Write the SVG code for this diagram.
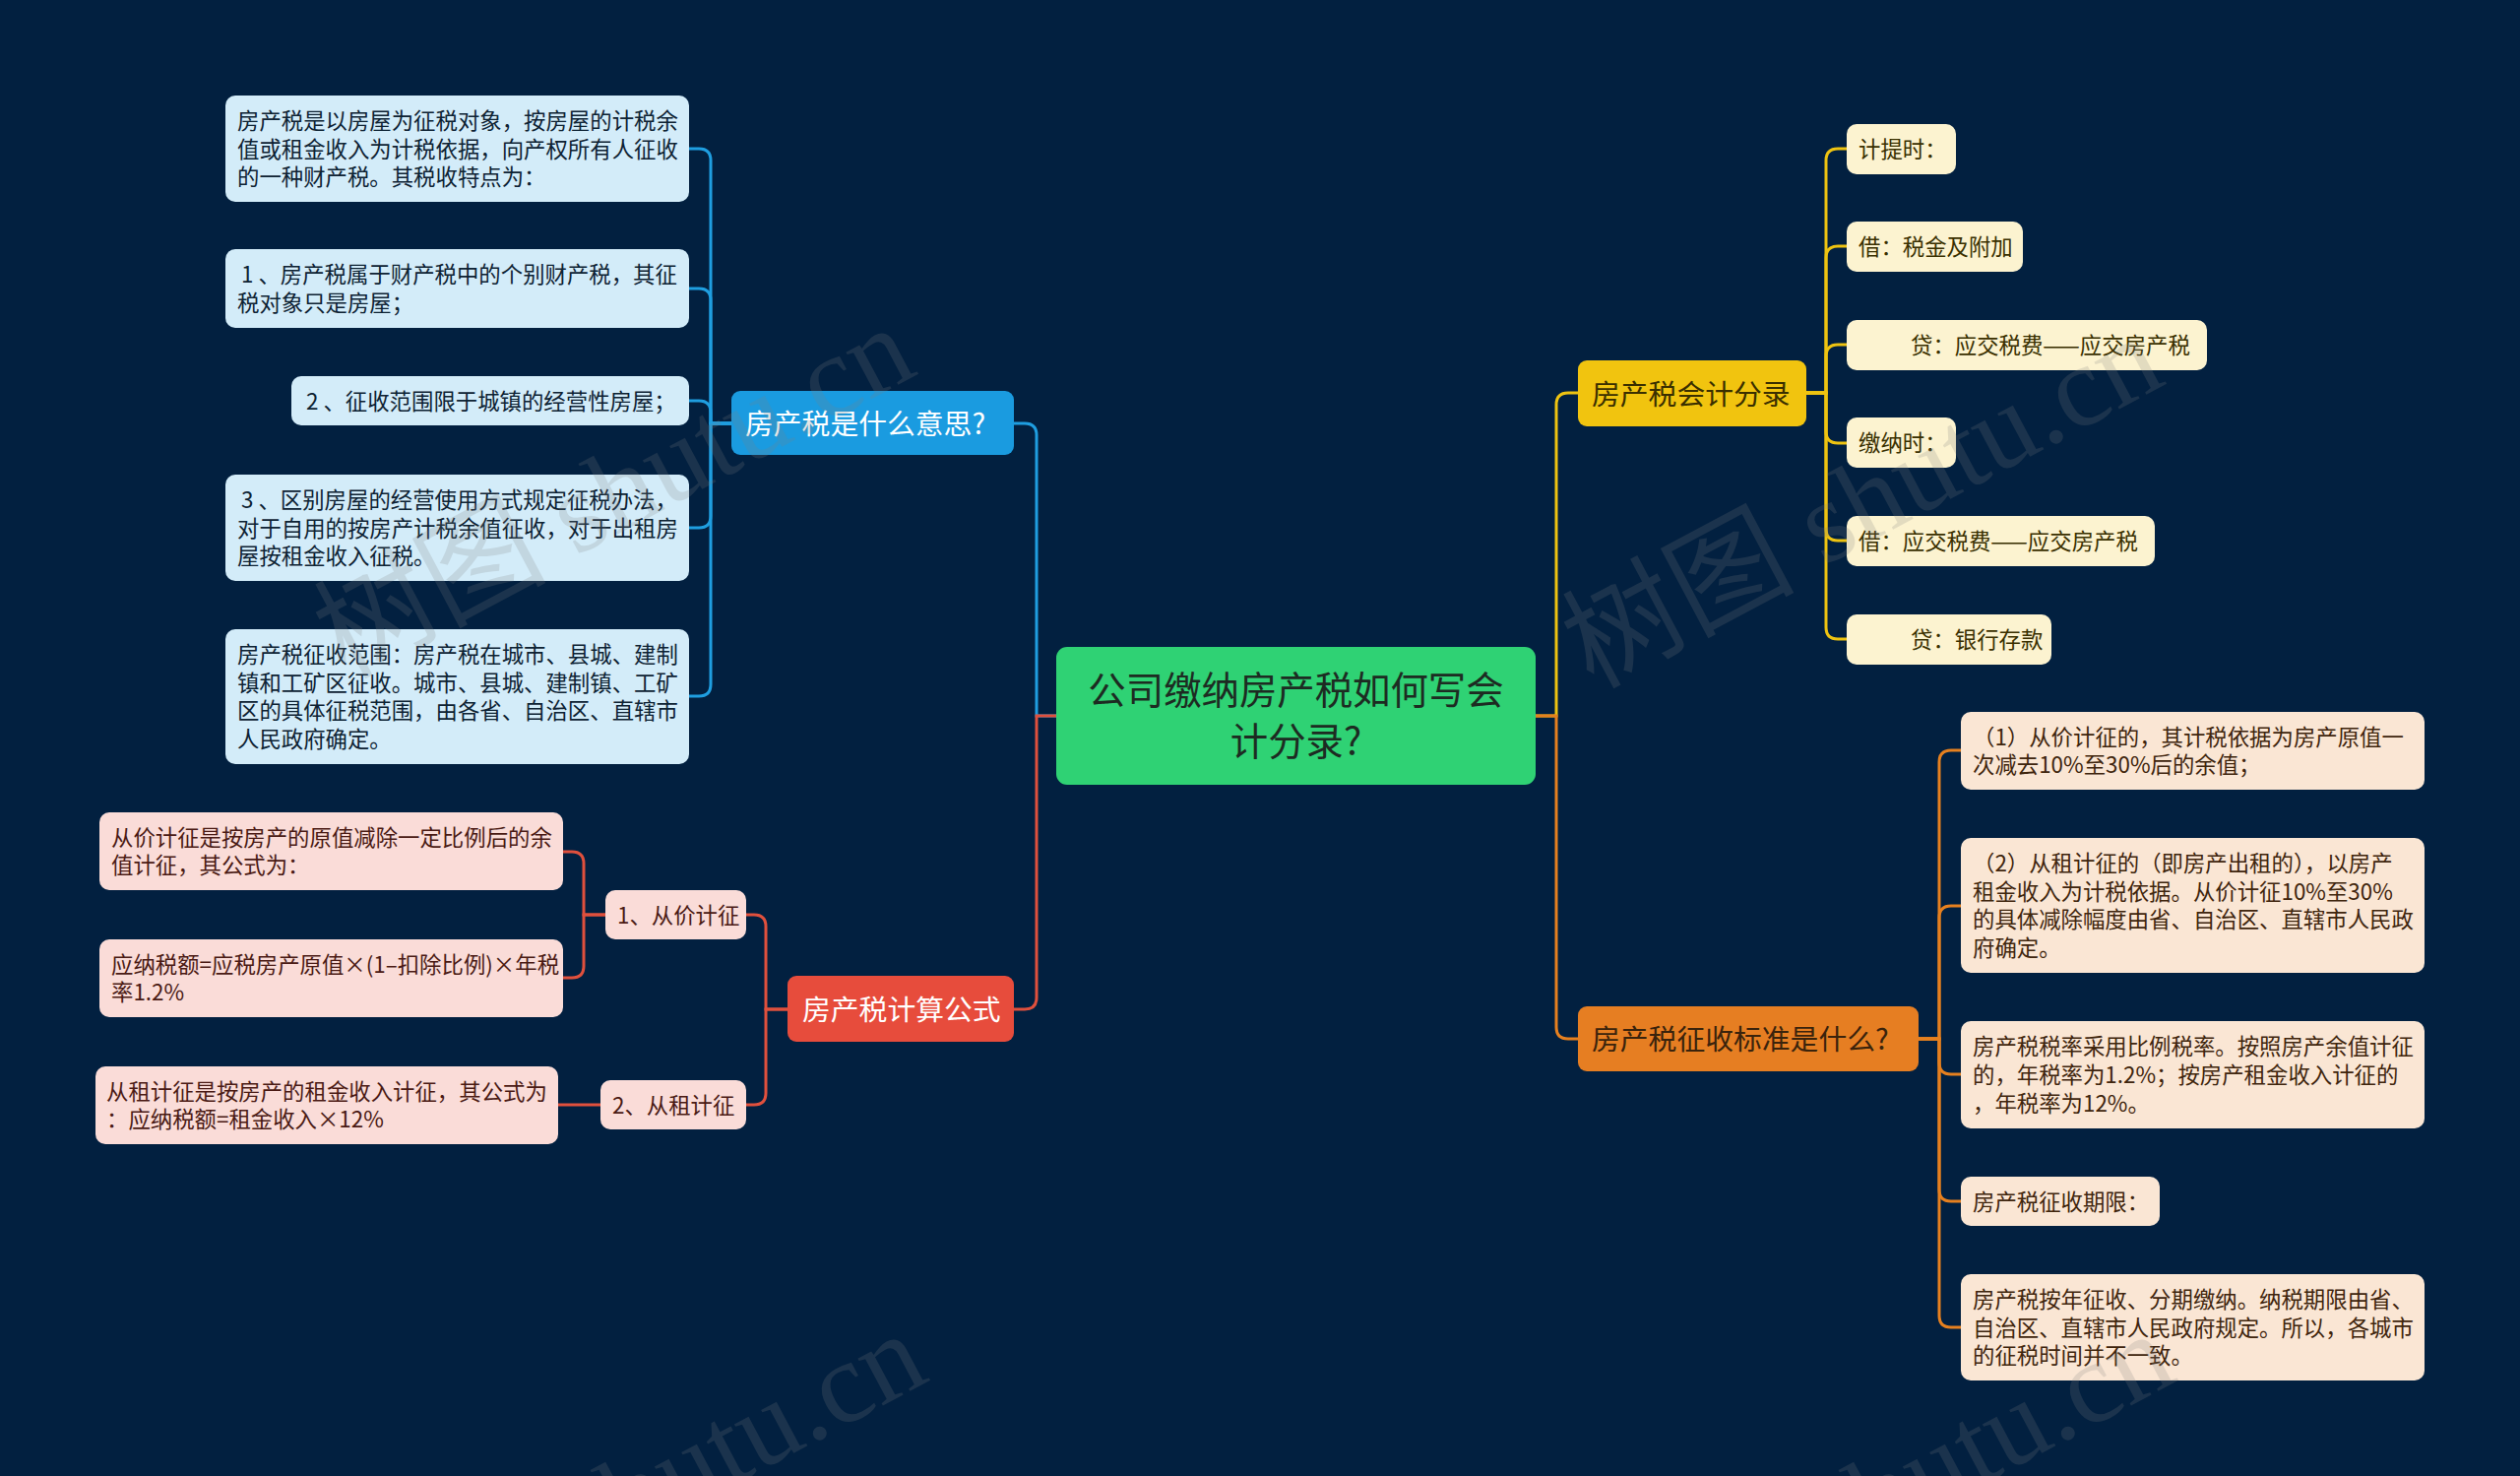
<svg xmlns="http://www.w3.org/2000/svg" width="2560" height="1499" viewBox="0 0 2560 1499">
<style>
text{font-family:"Noto Sans CJK SC","Noto Sans",sans-serif;}
.t{font-size:22.4px;}
.m{font-size:28.8px;}
.c{font-size:38.4px;fill:#1d2b22;}
.ln{fill:none;stroke-width:3;stroke-linecap:round;}
.bl{stroke:#1f9ee0;}
.rd{stroke:#e0503d;}
.yl{stroke:#eec311;}
.or{stroke:#e6801f;}
.cb{fill:#d3ecf9;}
.cp{fill:#fadcd8;}
.cy{fill:#fcf3d0;}
.co{fill:#fae6d4;}
.tb{fill:#0d2233;}
.tp{fill:#4a1a14;}
.ty{fill:#3a3000;}
.to{fill:#3f250d;}
.wm{font-family:"Liberation Serif","Noto Sans CJK SC",serif;font-size:118px;fill:#808080;opacity:0.2;}
</style>
<rect width="2560" height="1499" fill="#022040"/>

<g id="connectors">
<path class="ln bl" d="M1073,727 H1053 V442 Q1053,430 1041,430 H1030"/>
<path class="ln rd" d="M1073,727 H1053 V1013 Q1053,1025 1041,1025 H1030"/>
<path class="ln yl" d="M1560,727 H1581 V411 Q1581,399 1593,399 H1603"/>
<path class="ln or" d="M1560,727 H1581 V1043 Q1581,1055 1593,1055 H1603"/>

<path class="ln bl" d="M743,430 H722 V163 Q722,151 710,151 H700"/>
<path class="ln bl" d="M743,430 H722 V305 Q722,293 710,293 H700"/>
<path class="ln bl" d="M743,430 H722 V419 Q722,407 710,407 H700"/>
<path class="ln bl" d="M743,430 H722 V524 Q722,536 710,536 H700"/>
<path class="ln bl" d="M743,430 H722 V695 Q722,707 710,707 H700"/>

<path class="ln rd" d="M800,1025 H778 V941 Q778,929 766,929 H758"/>
<path class="ln rd" d="M800,1025 H778 V1110 Q778,1122 766,1122 H758"/>
<path class="ln rd" d="M615,929 H593 V877 Q593,865 581,865 H572"/>
<path class="ln rd" d="M615,929 H593 V981 Q593,993 581,993 H572"/>
<path class="ln rd" d="M610,1122 H567"/>

<path class="ln yl" d="M1835,399 H1855 V163 Q1855,151 1867,151 H1876"/>
<path class="ln yl" d="M1835,399 H1855 V262 Q1855,250 1867,250 H1876"/>
<path class="ln yl" d="M1835,399 H1855 V362 Q1855,350 1867,350 H1876"/>
<path class="ln yl" d="M1835,399 H1855 V438 Q1855,450 1867,450 H1876"/>
<path class="ln yl" d="M1835,399 H1855 V537 Q1855,549 1867,549 H1876"/>
<path class="ln yl" d="M1835,399 H1855 V637 Q1855,649 1867,649 H1876"/>

<path class="ln or" d="M1949,1055 H1970 V774 Q1970,762 1982,762 H1992"/>
<path class="ln or" d="M1949,1055 H1970 V932 Q1970,920 1982,920 H1992"/>
<path class="ln or" d="M1949,1055 H1970 V1079 Q1970,1091 1982,1091 H1992"/>
<path class="ln or" d="M1949,1055 H1970 V1208 Q1970,1220 1982,1220 H1992"/>
<path class="ln or" d="M1949,1055 H1970 V1336 Q1970,1348 1982,1348 H1992"/>
</g>

<g id="root">
<rect x="1073" y="657" width="487" height="140" rx="11" fill="#2fd274"/>
<text class="c" x="1316.5" y="715" text-anchor="middle">公司缴纳房产税如何写会</text>
<text class="c" x="1316.5" y="767" text-anchor="middle">计分录?</text>
</g>

<g id="b-main">
<rect x="743" y="397" width="287" height="65" rx="9" fill="#1a9be0"/>
<text class="m" x="757" y="440.5" fill="#ffffff">房产税是什么意思?</text>
</g>
<g id="b1">
<rect class="cb" x="229" y="97" width="471" height="108" rx="10"/>
<text class="t tb" x="241" y="130.7">房产税是以房屋为征税对象，按房屋的计税余</text>
<text class="t tb" x="241" y="159.5">值或租金收入为计税依据，向产权所有人征收</text>
<text class="t tb" x="241" y="188.3">的一种财产税。其税收特点为：</text>
</g>
<g id="b2">
<rect class="cb" x="229" y="253" width="471" height="80" rx="10"/>
<text class="t tb" x="245" y="287.1">1 、房产税属于财产税中的个别财产税，其征</text>
<text class="t tb" x="241" y="315.9">税对象只是房屋；</text>
</g>
<g id="b3">
<rect class="cb" x="296" y="382" width="404" height="50" rx="10"/>
<text class="t tb" x="311" y="415.5">2 、征收范围限于城镇的经营性房屋；</text>
</g>
<g id="b4">
<rect class="cb" x="229" y="482" width="471" height="108" rx="10"/>
<text class="t tb" x="245" y="515.7">3 、区别房屋的经营使用方式规定征税办法，</text>
<text class="t tb" x="241" y="544.5">对于自用的按房产计税余值征收，对于出租房</text>
<text class="t tb" x="241" y="573.3">屋按租金收入征税。</text>
</g>
<g id="b5">
<rect class="cb" x="229" y="639" width="471" height="137" rx="10"/>
<text class="t tb" x="241" y="672.8">房产税征收范围：房产税在城市、县城、建制</text>
<text class="t tb" x="241" y="701.6">镇和工矿区征收。城市、县城、建制镇、工矿</text>
<text class="t tb" x="241" y="730.4">区的具体征税范围，由各省、自治区、直辖市</text>
<text class="t tb" x="241" y="759.2">人民政府确定。</text>
</g>

<g id="r-main">
<rect x="800" y="991" width="230" height="67" rx="9" fill="#e74c3c"/>
<text class="m" x="815" y="1035.5" fill="#ffffff">房产税计算公式</text>
</g>
<g id="r1">
<rect class="cp" x="615" y="904" width="143" height="50" rx="10"/>
<text class="t tp" x="627" y="937.5">1、从价计征</text>
</g>
<g id="r2">
<rect class="cp" x="610" y="1097" width="148" height="50" rx="10"/>
<text class="t tp" x="622" y="1130.5">2、从租计征</text>
</g>
<g id="r1a">
<rect class="cp" x="101" y="825" width="471" height="79" rx="10"/>
<text class="t tp" x="113" y="858.6">从价计征是按房产的原值减除一定比例后的余</text>
<text class="t tp" x="113" y="887.4">值计征，其公式为：</text>
</g>
<g id="r1b">
<rect class="cp" x="101" y="954" width="471" height="79" rx="10"/>
<text class="t tp" x="113" y="987.6">应纳税额=应税房产原值×(1–扣除比例)×年税</text>
<text class="t tp" x="113" y="1016.4">率1.2%</text>
</g>
<g id="r2a">
<rect class="cp" x="97" y="1083" width="470" height="79" rx="10"/>
<text class="t tp" x="108" y="1116.6">从租计征是按房产的租金收入计征，其公式为</text>
<text class="t tp" x="108" y="1145.4">：应纳税额=租金收入×12%</text>
</g>

<g id="y-main">
<rect x="1603" y="366" width="232" height="67" rx="9" fill="#f1c40f"/>
<text class="m" x="1617" y="410.5" fill="#3a2f00">房产税会计分录</text>
</g>
<g id="y1">
<rect class="cy" x="1876" y="126" width="111" height="51" rx="10"/>
<text class="t ty" x="1888" y="160">计提时：</text>
</g>
<g id="y2">
<rect class="cy" x="1876" y="225" width="179" height="51" rx="10"/>
<text class="t ty" x="1888" y="259">借：税金及附加</text>
</g>
<g id="y3">
<rect class="cy" x="1876" y="325" width="366" height="51" rx="10"/>
<text class="t ty" x="1941" y="359">贷：应交税费——应交房产税</text>
</g>
<g id="y4">
<rect class="cy" x="1876" y="424" width="111" height="51" rx="10"/>
<text class="t ty" x="1888" y="458">缴纳时：</text>
</g>
<g id="y5">
<rect class="cy" x="1876" y="524" width="313" height="51" rx="10"/>
<text class="t ty" x="1888" y="558">借：应交税费——应交房产税</text>
</g>
<g id="y6">
<rect class="cy" x="1876" y="624" width="208" height="51" rx="10"/>
<text class="t ty" x="1941" y="658">贷：银行存款</text>
</g>

<g id="o-main">
<rect x="1603" y="1022" width="346" height="66" rx="9" fill="#e67e22"/>
<text class="m" x="1617" y="1066" fill="#3a230c">房产税征收标准是什么?</text>
</g>
<g id="o1">
<rect class="co" x="1992" y="723" width="471" height="79" rx="10"/>
<text class="t to" x="2004" y="756.6">（1）从价计征的，其计税依据为房产原值一</text>
<text class="t to" x="2004" y="785.4">次减去10%至30%后的余值；</text>
</g>
<g id="o2">
<rect class="co" x="1992" y="851" width="471" height="137" rx="10"/>
<text class="t to" x="2004" y="884.8">（2）从租计征的（即房产出租的），以房产</text>
<text class="t to" x="2004" y="913.6">租金收入为计税依据。从价计征10%至30%</text>
<text class="t to" x="2004" y="942.4">的具体减除幅度由省、自治区、直辖市人民政</text>
<text class="t to" x="2004" y="971.2">府确定。</text>
</g>
<g id="o3">
<rect class="co" x="1992" y="1037" width="471" height="109" rx="10"/>
<text class="t to" x="2004" y="1071.2">房产税税率采用比例税率。按照房产余值计征</text>
<text class="t to" x="2004" y="1100">的，年税率为1.2%；按房产租金收入计征的</text>
<text class="t to" x="2004" y="1128.8">，年税率为12%。</text>
</g>
<g id="o4">
<rect class="co" x="1992" y="1195" width="202" height="50" rx="10"/>
<text class="t to" x="2004" y="1228.5">房产税征收期限：</text>
</g>
<g id="o5">
<rect class="co" x="1992" y="1294" width="471" height="108" rx="10"/>
<text class="t to" x="2004" y="1327.7">房产税按年征收、分期缴纳。纳税期限由省、</text>
<text class="t to" x="2004" y="1356.5">自治区、直辖市人民政府规定。所以，各城市</text>
<text class="t to" x="2004" y="1385.3">的征税时间并不一致。</text>
</g>

<g id="watermarks">
<text class="wm" transform="translate(350,690) rotate(-28)">树图 shutu.cn</text>
<text class="wm" transform="translate(1618,700) rotate(-28)">树图 shutu.cn</text>
<text class="wm" transform="translate(362,1712) rotate(-28)">树图 shutu.cn</text>
<text class="wm" transform="translate(1630,1712) rotate(-28)">树图 shutu.cn</text>
</g>
</svg>
